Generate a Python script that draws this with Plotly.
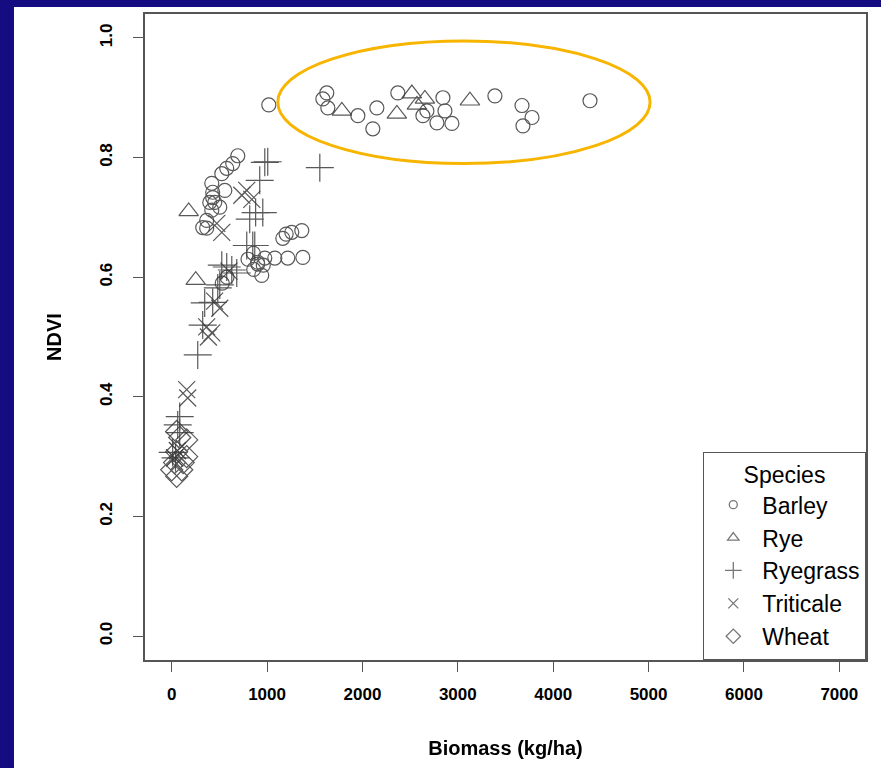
import plotly.graph_objects as go

# ---- data (Biomass kg/ha, NDVI) ----
barley_x = [1018, 1626, 1585, 1637, 1952, 2151, 2109, 2371, 2634, 2844, 2781, 2938, 2865, 2676,
            3389, 3673, 3683, 3778, 4386,
            693, 640, 577, 525, 420, 430, 430, 451, 504, 399, 367, 367, 325, 420, 557,
            1364, 1259, 1165, 1200, 1375, 1217, 1081, 976, 902, 944, 860, 857, 900, 960,
            530, 580, 800]
barley_y = [0.888, 0.908, 0.898, 0.883, 0.870, 0.883, 0.848, 0.908, 0.870, 0.900, 0.858, 0.857, 0.878, 0.878,
            0.903, 0.887, 0.853, 0.867, 0.895,
            0.803, 0.790, 0.782, 0.773, 0.757, 0.742, 0.733, 0.725, 0.717, 0.725, 0.695, 0.682, 0.683, 0.712, 0.745,
            0.678, 0.675, 0.665, 0.672, 0.633, 0.632, 0.632, 0.632, 0.622, 0.603, 0.613, 0.640, 0.625, 0.620,
            0.590, 0.600, 0.630]

rye_x = [1784, 2361, 2518, 2655, 3127, 2571, 178, 252]
rye_y = [0.878, 0.873, 0.907, 0.898, 0.895, 0.888, 0.710, 0.595]

ryegrass_x = [1553, 1007, 976, 923, 955, 880, 818, 850, 787, 871, 525, 630, 577, 682, 504, 483,
              430, 346, 325, 273, 84, 63, 84, 10, 40]
ryegrass_y = [0.783, 0.793, 0.792, 0.762, 0.708, 0.708, 0.697, 0.653, 0.653, 0.653, 0.620, 0.612, 0.617, 0.607, 0.587, 0.582,
              0.558, 0.557, 0.520, 0.470, 0.367, 0.353, 0.340, 0.307, 0.298]

triticale_x = [787, 735, 840, 525, 473, 504, 367, 420, 385, 157, 168, 31, 60, 600, 450]
triticale_y = [0.745, 0.737, 0.730, 0.675, 0.690, 0.548, 0.517, 0.507, 0.500, 0.412, 0.398, 0.298, 0.310, 0.610, 0.560]

wheat_x = [52, 84, 157, 52, 157, 52, 105, 0, 30, 120]
wheat_y = [0.342, 0.332, 0.328, 0.308, 0.300, 0.267, 0.278, 0.278, 0.290, 0.290]

species = ["Barley", "Rye", "Ryegrass", "Triticale", "Wheat"]
series_x = [barley_x, rye_x, ryegrass_x, triticale_x, wheat_x]
series_y = [barley_y, rye_y, ryegrass_y, triticale_y, wheat_y]
symbols = ["circle-open", "triangle-up-open", "cross-thin-open", "x-thin-open", "diamond-open"]
sizes = [14, 17, 20, 17, 17]
legend_sizes = [8, 10, 12, 10, 11]

x_ticks = [0, 1000, 2000, 3000, 4000, 5000, 6000, 7000]
y_ticks = [0.0, 0.2, 0.4, 0.6, 0.8, 1.0]

MARK = "#3a3a3a"
FONT = "Liberation Sans, Arial, sans-serif"

fig = go.Figure()
for name, xs, ys, sym, sz in zip(species, series_x, series_y, symbols, sizes):
    fig.add_trace(go.Scatter(
        x=xs, y=ys, mode="markers", name=name, showlegend=False,
        marker=dict(symbol=sym, size=sz, color=MARK, line=dict(color=MARK, width=1.2)),
        opacity=0.85))
for name, sym, sz in zip(species, symbols, legend_sizes):
    fig.add_trace(go.Scatter(
        x=[None], y=[None], mode="markers", name=name, showlegend=True,
        marker=dict(symbol=sym, size=sz, color="#777777", line=dict(color="#777777", width=1.3))))

# white page over blue slide background
fig.add_shape(type="rect", xref="paper", yref="paper", x0=-0.1817, x1=1.1, y0=-0.3, y1=1.0108,
              fillcolor="white", line=dict(width=0), layer="below")
# highlight ellipse
fig.add_shape(type="circle", xref="x", yref="y", x0=1112, x1=5016, y0=0.790, y1=0.995,
              line=dict(color="#F7B500", width=3), fillcolor="rgba(0,0,0,0)")

axis_common = dict(showgrid=False, zeroline=False, showline=True, mirror=True,
                   linecolor="#555555", linewidth=1.5, ticks="outside", ticklen=10,
                   tickcolor="#555555", tickwidth=1.3,
                   tickfont=dict(family=FONT, size=17, color="black", weight="bold"))

fig.update_layout(
    width=881, height=768,
    margin=dict(l=145, r=15, t=12, b=108),
    paper_bgcolor="#150c82", plot_bgcolor="white",
    font=dict(family=FONT, color="black"),
    xaxis=dict(range=[-280, 7280], tickvals=x_ticks, ticktext=[str(t) for t in x_ticks],
               ticklabelstandoff=8,
               title=dict(text="<b>Biomass (kg/ha)</b>", font=dict(family=FONT, size=20), standoff=38),
               **axis_common),
    yaxis=dict(range=[-0.04, 1.04], tickvals=y_ticks, ticktext=[f"{t:.1f}" for t in y_ticks],
               tickangle=-90, ticklabelstandoff=14,
               title=dict(text="<b>NDVI</b>", font=dict(family=FONT, size=20), standoff=30),
               **axis_common),
    legend=dict(x=1, xanchor="right", y=0, yanchor="bottom",
                bgcolor="white", bordercolor="#555555", borderwidth=1.3,
                font=dict(family=FONT, size=23, color="black"),
                title=dict(text="Species", side="top center", font=dict(family=FONT, size=23)),
                itemsizing="trace", tracegroupgap=0, itemwidth=48),
)

fig.write_html("out.html", config={"displayModeBar": False},
               post_script="document.body.style.margin='0';document.body.style.overflow='hidden';")
